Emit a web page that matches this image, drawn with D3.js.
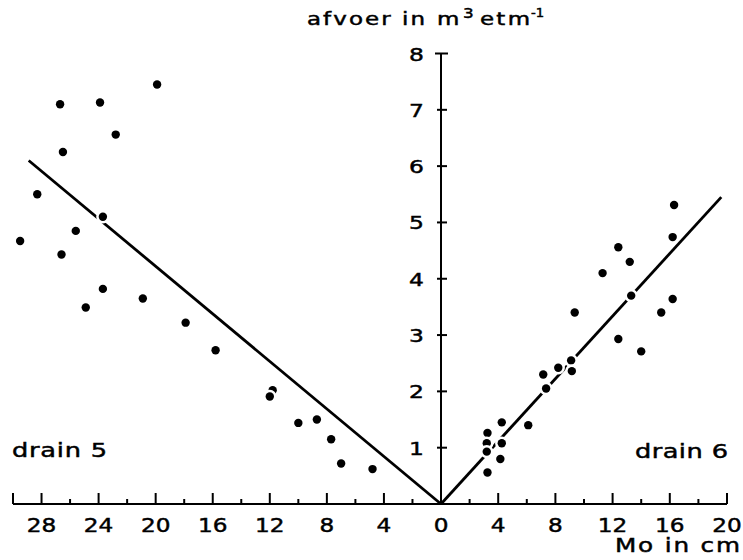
<!DOCTYPE html>
<html>
<head>
<meta charset="utf-8">
<script src="https://cdn.jsdelivr.net/npm/d3@7"></script>
<style>
  html, body { margin: 0; padding: 0; background: #fff; }
  svg { display: block; }
  text { font-family: "DejaVu Sans", sans-serif; fill: #000; stroke: #000; stroke-width: 0.45px; }
</style>
</head>
<body>
<div id="chart"></div>
<script>
// ---- data (Mo in cm, afvoer in m3 etm-1) ----
const drain5X = [19.9, 26.7, 23.9, 22.8, 26.5, 28.3, 23.7, 25.6, 29.5, 26.6, 23.7, 20.9, 24.9, 17.9, 15.8, 11.8, 12.0, 10.0, 8.7, 7.7, 7.0, 4.8];
const drain5Y = [7.45, 7.10, 7.13, 6.56, 6.25, 5.50, 5.10, 4.85, 4.67, 4.43, 3.82, 3.65, 3.49, 3.22, 2.73, 2.02, 1.91, 1.44, 1.50, 1.15, 0.72, 0.62];
const drain6X = [16.3, 16.2, 12.4, 13.2, 11.3, 13.3, 16.2, 15.4, 9.35, 12.4, 14.0, 9.1, 7.15, 8.2, 9.15, 7.35, 4.25, 6.1, 3.25, 3.2, 3.2, 4.25, 4.15, 3.25];
const drain6Y = [5.31, 4.74, 4.56, 4.30, 4.10, 3.70, 3.64, 3.40, 3.40, 2.93, 2.71, 2.55, 2.30, 2.42, 2.36, 2.05, 1.45, 1.40, 1.26, 1.08, 0.93, 1.08, 0.80, 0.56];
const fit5 = [[0, 0], [28.9, 6.10]];
const fit6 = [[0, 0], [19.6, 5.45]];
const leftTickLabels = [28, 24, 20, 16, 12, 8, 4];
const rightTickLabels = [0, 4, 8, 12, 16, 20];
const leftMinor = [2, 6, 10, 14, 18, 22, 26];
const rightMinor = [2, 6, 10, 14, 18];
const yTickLabels = [1, 2, 3, 4, 5, 6, 7, 8];

const W = 743, H = 560;
const svg = d3.select("#chart").append("svg").attr("width", W).attr("height", H);

const xL = d3.scaleLinear().domain([0, 30]).range([441, 13]);
const xR = d3.scaleLinear().domain([0, 20]).range([441, 727]);
const y = d3.scaleLinear().domain([0, 8]).range([504, 53.5]);

const g = svg.append("g");

// wide lettering helper: horizontally stretched text
function label(parent, x, yy, str, size, sx, anchor, width) {
  const t = parent.append("text")
    .attr("transform", `translate(${x},${yy}) scale(${sx},1)`)
    .attr("font-size", size).attr("text-anchor", anchor || "start").text(str);
  if (width) t.attr("textLength", width / sx).attr("lengthAdjust", "spacing");
  return t;
}

// x axis line
g.append("line").attr("x1", xL(30)).attr("x2", xR(20)).attr("y1", y(0)).attr("y2", y(0))
  .attr("stroke", "#000").attr("stroke-width", 2);
const majorL = leftTickLabels.concat([30]);
const majorR = rightTickLabels.filter(d => d > 0);
g.selectAll(".tmL").data(majorL).enter().append("line")
  .attr("x1", d => xL(d)).attr("x2", d => xL(d)).attr("y1", y(0)).attr("y2", y(0) - 11)
  .attr("stroke", "#000").attr("stroke-width", 2);
g.selectAll(".tmR").data(majorR).enter().append("line")
  .attr("x1", d => xR(d)).attr("x2", d => xR(d)).attr("y1", y(0)).attr("y2", y(0) - 11)
  .attr("stroke", "#000").attr("stroke-width", 2);
g.selectAll(".tnL").data(leftMinor).enter().append("line")
  .attr("x1", d => xL(d)).attr("x2", d => xL(d)).attr("y1", y(0)).attr("y2", y(0) - 5)
  .attr("stroke", "#000").attr("stroke-width", 2);
g.selectAll(".tnR").data(rightMinor).enter().append("line")
  .attr("x1", d => xR(d)).attr("x2", d => xR(d)).attr("y1", y(0)).attr("y2", y(0) - 5)
  .attr("stroke", "#000").attr("stroke-width", 2);

// x labels
leftTickLabels.forEach(d => label(g, xL(d), 532, String(d), 19, 1.22, "middle"));
rightTickLabels.forEach(d => label(g, xR(d), 532, String(d), 19, 1.22, "middle"));

// y axis
g.append("line").attr("x1", xR(0)).attr("x2", xR(0)).attr("y1", y(0)).attr("y2", y(8))
  .attr("stroke", "#000").attr("stroke-width", 2);
g.selectAll(".ty").data(yTickLabels).enter().append("line")
  .attr("x1", d => xR(0) - (d === 8 ? 6 : 4)).attr("x2", d => xR(0) + (d === 8 ? 7 : 6))
  .attr("y1", d => y(d)).attr("y2", d => y(d))
  .attr("stroke", "#000").attr("stroke-width", 2);
yTickLabels.forEach(d => label(g, 424, y(d) + 7, String(d), 18, 1.3, "end"));

// fit lines
const lineL = d3.line().x(d => xL(d[0])).y(d => y(d[1]));
const lineR = d3.line().x(d => xR(d[0])).y(d => y(d[1]));
g.append("path").attr("d", lineL(fit5)).attr("fill", "none").attr("stroke", "#000").attr("stroke-width", 2.8);
g.append("path").attr("d", lineR(fit6)).attr("fill", "none").attr("stroke", "#000").attr("stroke-width", 2.8);

// points (white halo breaks the lines as in the original)
const pts5 = drain5X.map((v, i) => [v, drain5Y[i]]);
const pts6 = drain6X.map((v, i) => [v, drain6Y[i]]);
g.selectAll(".p5").data(pts5).enter().append("circle")
  .attr("cx", d => xL(d[0])).attr("cy", d => y(d[1])).attr("r", 4.2)
  .attr("fill", "#000").attr("stroke", "#fff").attr("stroke-width", 5).attr("paint-order", "stroke");
g.selectAll(".p6").data(pts6).enter().append("circle")
  .attr("cx", d => xR(d[0])).attr("cy", d => y(d[1])).attr("r", 4.2)
  .attr("fill", "#000").attr("stroke", "#fff").attr("stroke-width", 5).attr("paint-order", "stroke");

// labels
label(g, 12, 457, "drain 5", 19, 1.35, "start", 95);
label(g, 635, 458, "drain 6", 19, 1.35, "start", 93);
label(g, 615, 552, "Mo in cm", 19, 1.3, "start", 125);

// title
const ty = 25;
label(g, 307, ty, "afvoer in", 17, 1.35, "start", 118);
label(g, 437, ty, "m", 17, 1.35, "start");
label(g, 463, ty - 7, "3", 14, 1.2, "start");
label(g, 480, ty, "etm", 17, 1.35, "start", 50);
label(g, 531, ty - 8, "-1", 12, 1.1, "start");
</script>
</body>
</html>
